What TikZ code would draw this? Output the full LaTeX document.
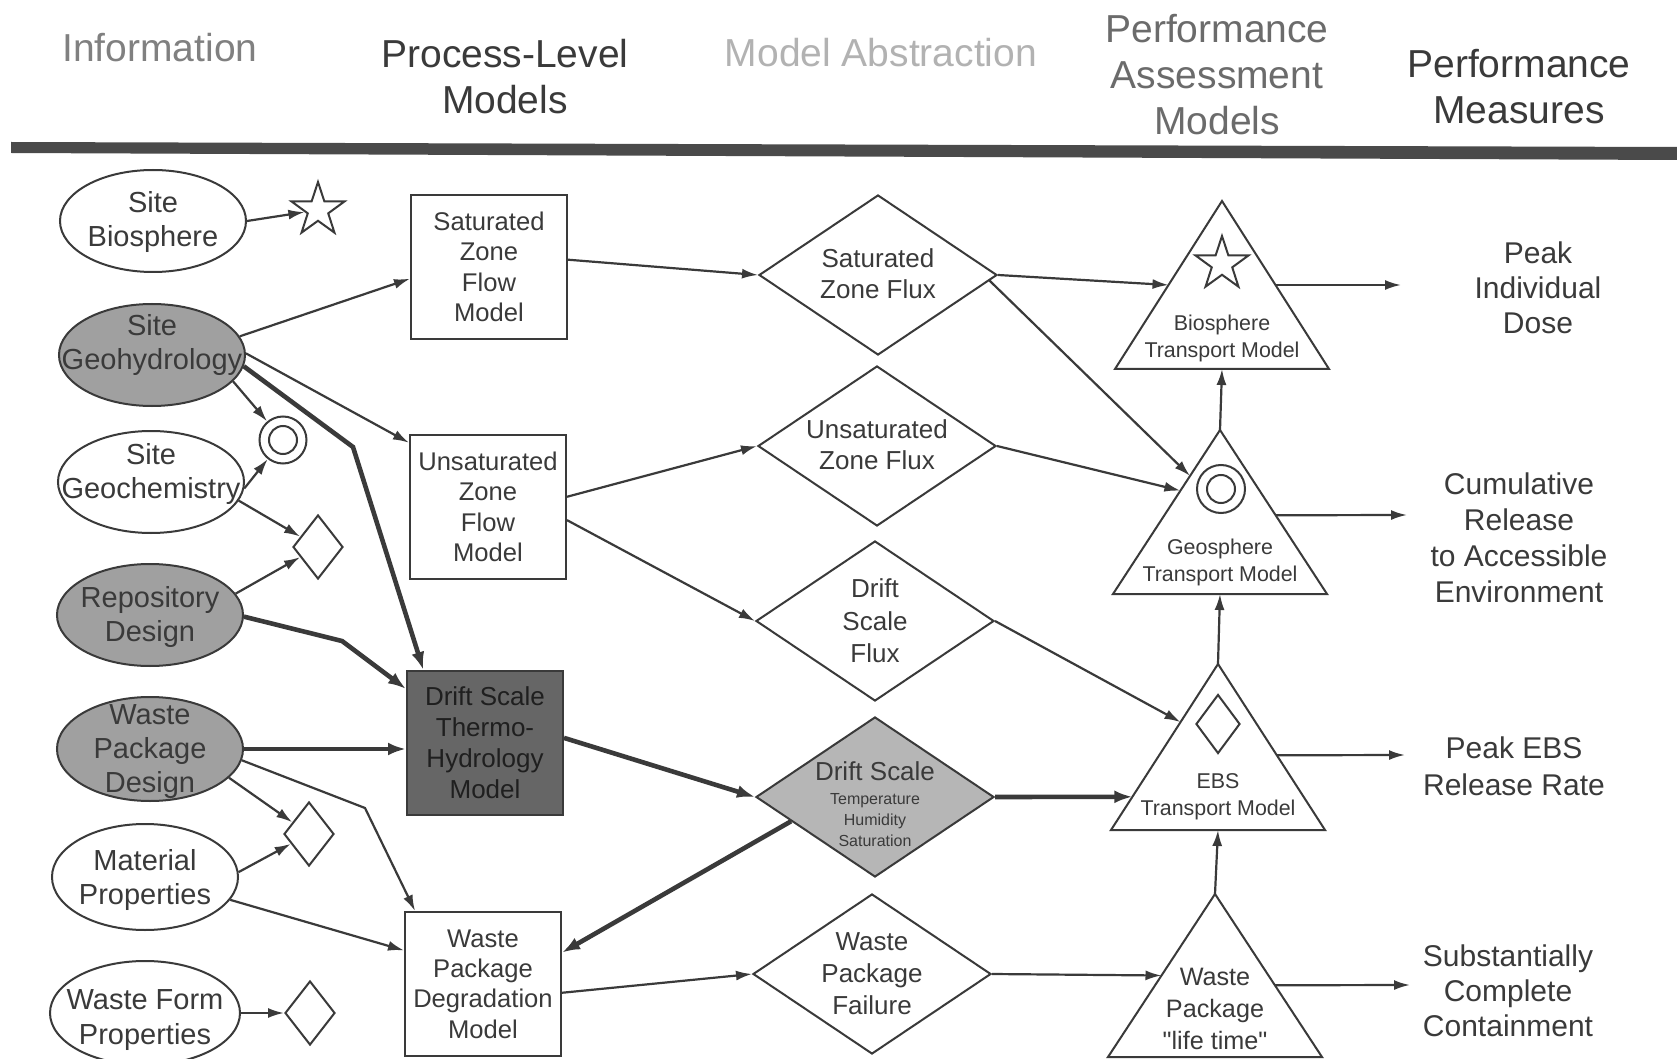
\documentclass[tikz,border=0pt]{standalone}
\usepackage{fontspec}
\setmainfont{Liberation Sans}
\newfontfamily\plainfont{Liberation Sans}
\usetikzlibrary{shapes.geometric,arrows.meta,calc}
\definecolor{ink}{HTML}{3A3A3A}
\definecolor{ellgray}{HTML}{A0A0A0}
\definecolor{thmgray}{HTML}{666666}
\definecolor{dsdgray}{HTML}{B6B6B6}
\definecolor{bandc}{HTML}{4A4A4A}
\begin{document}
\begin{tikzpicture}[x=0.5pt,y=-0.5pt,
  shp/.style={draw=ink, line width=1pt, inner sep=0pt},
  ell/.style={shp, ellipse, minimum width=93pt, minimum height=51pt},
  ellg/.style={ell, fill=ellgray},
  etx/.style={align=center, text=ink, inner sep=0pt, font=\fontsize{14.5}{17.3}\selectfont},
  pbox/.style={shp, rectangle, minimum width=78pt, minimum height=72pt, align=center, text=ink, font=\fontsize{12.8}{15.2}\selectfont},
  dia/.style={shp, diamond, minimum width=119pt, minimum height=80pt},
  dtx/.style={align=center, text=ink, inner sep=0pt, font=\fontsize{13}{15.6}\selectfont},
  sdia/.style={shp, diamond, minimum width=25pt, minimum height=32pt},
  sstar/.style={shp, star, star points=5, star point ratio=2.6, minimum size=28pt},
  scirc/.style={shp, circle, minimum size=23.5pt},
  ttx/.style={align=center, text=ink, inner sep=0pt, font=\fontsize{10.7}{13.5}\selectfont},
  mtx/.style={align=center, text=ink, inner sep=0pt, font=\fontsize{15}{17.6}\selectfont},
  htx/.style={align=center, inner sep=0pt, font=\fontsize{19.5}{23}\selectfont},
  arr/.style={draw=ink, line width=1.1pt, -{Latex[length=8pt,width=5pt]}},
  tarr/.style={draw=ink, line width=2.3pt, -{Latex[length=9pt,width=6.5pt]}},
  tri/.style={draw=ink, line width=1pt, line join=miter}
]
\useasboundingbox (0,0) rectangle (1677,1059);
\fill[white] (0,0) rectangle (1677,1059);

% headers
\node[htx, text=black!50] (h1) at (160,48) {Information};
\node[htx, text=ink] (h2) at (505,77) {Process-Level\\Models};
\node[htx, text=black!30] (h3) at (881,53) {Model Abstraction};
\node[htx, text=black!58] (h4) at (1217,75) {Performance\\Assessment\\Models};
\node[htx, text=ink] (h5) at (1519,87) {Performance\\Measures};
\fill[bandc] (11,142) -- (1677,147) -- (1677,160) -- (11,153) -- cycle;

% information ellipses
\node[ell]  (bio)  at (153,221) {};
\node[etx]  (bio-t) at ($(bio)+(0,1)$) {Site\\Biosphere};
\node[ellg] (geo)  at (152,355) {};
\node[etx]  (geo-t) at ($(geo)+(0,-10)$) {Site\\Geohydrology};
\node[ell]  (chem) at (151,482) {};
\node[etx]  (chem-t) at ($(chem)+(0,-8)$) {Site\\Geochemistry};
\node[ellg] (repo) at (150,615) {};
\node[etx]  (repo-t) at ($(repo)+(0,2)$) {Repository\\Design};
\node[ellg, minimum height=52pt] (wpd) at (150,749) {};
\node[etx, font=\fontsize{14.5}{17}\selectfont]  (wpd-t) at ($(wpd)+(0,3)$) {Waste\\Package\\Design};
\node[ell, minimum height=53pt]  (mat)  at (145,877) {};
\node[etx]  (mat-t) at ($(mat)+(0,3)$) {Material\\Properties};
\node[ell, minimum width=95pt, minimum height=52pt]  (wf)   at (145,1013) {};
\node[etx]  (wf-t) at ($(wf)+(0,7)$) {Waste Form\\Properties};

% small symbols
\node[sstar] (star1) at (318,210) {};
\node[scirc] (circ1) at (283,440) {};
\draw[ink, line width=1pt] (circ1.center) circle[radius=14];
\node[sdia] (dia1) at (318,547) {};
\node[sdia] (dia2) at (309,834) {};
\node[sdia] (dia3) at (310,1013) {};

% process-level models
\node[pbox] (szfm) at (489,267) {Saturated\\Zone\\Flow\\Model};
\node[pbox] (uzfm) at (488,507) {Unsaturated\\Zone\\Flow\\Model};
\node[pbox, fill=thmgray, text=black!88, font=\fontsize{13}{15.5}\selectfont] (thm) at (485,743) {Drift Scale\\Thermo-\\Hydrology\\Model};
\node[pbox] (wpdm) at (483,984) {Waste\\Package\\Degradation\\Model};

% model abstraction diamonds
\node[dia] (szf) at (878,275) {};
\node[dtx] (szf-t) at ($(szf)+(0,-1)$) {Saturated\\Zone Flux};
\node[dia] (uzf) at (877,446) {};
\node[dtx] (uzf-t) at ($(uzf)+(0,-1)$) {Unsaturated\\Zone Flux};
\node[dia] (dsf) at (875,621) {};
\node[dtx, font=\fontsize{13}{16.3}\selectfont] (dsf-t) at (dsf) {Drift\\Scale\\Flux};
\node[dia, fill=dsdgray] (dsd) at (875,797) {};
\node[align=center, text=ink, inner sep=0pt, font=\fontsize{13}{15}\selectfont] (dsd-t1) at (875,771) {Drift Scale};
\node[align=center, text=ink, inner sep=0pt, font=\fontsize{8}{10.3}\selectfont] (dsd-t2) at (875,820) {Temperature\\Humidity\\Saturation};
\node[dia] (wpf) at (872,974) {};
\node[dtx, font=\fontsize{13}{16}\selectfont] (wpf-t) at (wpf) {Waste\\Package\\Failure};

% performance assessment triangles
\coordinate (bioA) at (1222,201); \coordinate (bioL) at (1115,369); \coordinate (bioR) at (1329,369);
\coordinate (geoA) at (1220,430); \coordinate (geoL) at (1113,594); \coordinate (geoR) at (1327,594);
\coordinate (ebsA) at (1218,664); \coordinate (ebsL) at (1111,830); \coordinate (ebsR) at (1325,830);
\coordinate (wptA) at (1215,894); \coordinate (wptL) at (1108,1057); \coordinate (wptR) at (1322,1057);
\draw[tri] (bioA) -- (bioL) -- (bioR) -- cycle;
\draw[tri] (geoA) -- (geoL) -- (geoR) -- cycle;
\draw[tri] (ebsA) -- (ebsL) -- (ebsR) -- cycle;
\draw[tri] (wptA) -- (wptL) -- (wptR) -- cycle;
\node[sstar] (star2) at (1222,264) {};
\node[scirc, minimum size=24pt] (circ2) at (1221,489) {};
\draw[ink, line width=1pt] (circ2.center) circle[radius=14];
\node[sdia, minimum width=22pt, minimum height=29.5pt] (dia4) at (1218,724) {};
\node[ttx] (bio-tt) at (1222,338) {Biosphere\\Transport Model};
\node[ttx] (geo-tt) at (1220,562) {Geosphere\\Transport Model};
\node[ttx] (ebs-tt) at (1218,797) {EBS\\Transport Model};
\node[ttx, font=\plainfont\fontsize{12.6}{16}\selectfont] (wpt-tt) at (1215,1009) {Waste\\Package\\"life time"};

% performance measures
\node[mtx] (pm1) at (1538,288) {Peak\\Individual\\Dose};
\node[mtx, font=\fontsize{15}{18}\selectfont] (pm2) at (1519,538) {Cumulative\\Release\\to Accessible\\Environment};
\node[mtx, font=\fontsize{15}{18.3}\selectfont] (pm3) at (1514,766) {Peak EBS\\Release Rate};
\node[mtx] (pm4) at (1508,991) {Substantially\\Complete\\Containment};
\coordinate (m1) at (1401,285);
\coordinate (m2) at (1407,515);
\coordinate (m3) at (1405,755);
\coordinate (m4) at (1410,985);
\coordinate (b1) at (353,447);
\coordinate (b2) at (342,641);
\coordinate (b3) at (365,808);

% connectors: information -> process / symbols
\draw[arr] (bio.east) -- (star1);
\draw[arr] (geo.12) -- ($(szfm.north west)!0.58!(szfm.south west)$);
\draw[arr] (geo.1) -- ($(uzfm.north west)!0.06!(uzfm.south west)$);
\draw[arr] (geo.-18) -- (circ1);
\draw[tarr] (geo.-7) -- (b1) -- ($(thm.north west)!0.11!(thm.north east)$);
\draw[arr] (chem.-4) -- (circ1);
\draw[arr] (chem.-12) -- (dia1);
\draw[arr] (repo.14) -- (dia1);
\draw[tarr] (repo.-1) -- (b2) -- ($(thm.north west)!0.13!(thm.south west)$);
\draw[tarr] (wpd.east) -- (wpd.east -| thm.west);
\draw[arr] (wpd.-20) -- (dia2);
\draw[arr] (wpd.-7) -- (b3) -- ($(wpdm.north west)!0.07!(wpdm.north east)$);
\draw[arr] (mat.3) -- (dia2);
\draw[arr] (mat.-15) -- ($(wpdm.north west)!0.27!(wpdm.south west)$);
\draw[arr] (wf.east) -- (dia3.west);

% process -> abstraction
\draw[arr] ($(szfm.north east)!0.45!(szfm.south east)$) -- (szf.west);
\draw[arr] ($(uzfm.north east)!0.43!(uzfm.south east)$) -- (uzf.west);
\draw[arr] ($(uzfm.north east)!0.59!(uzfm.south east)$) -- (dsf.west);
\draw[tarr] ($(thm.north east)!0.465!(thm.south east)$) -- (dsd.west);
\draw[tarr] ($(dsd.west)!0.3!(dsd.south)$) -- ($(wpdm.north east)!0.285!(wpdm.south east)$);
\draw[arr] ($(wpdm.north east)!0.56!(wpdm.south east)$) -- (wpf.west);

% abstraction -> assessment
\draw[arr] (szf.east) -- ($(bioA)!0.5!(bioL)$);
\draw[arr] ($(szf.east)!0.07!(szf.south)$) -- ($(geoA)!0.28!(geoL)$);
\draw[arr] (uzf.east) -- ($(geoA)!0.37!(geoL)$);
\draw[arr] (dsf.east) -- ($(ebsA)!0.35!(ebsL)$);
\draw[tarr] (dsd.east) -- ($(ebsA)!0.8!(ebsL)$);
\draw[arr] (wpf.east) -- ($(wptA)!0.5!(wptL)$);

% between triangles
\draw[arr] (wptA) -- ($(ebsL)!0.5!(ebsR)$);
\draw[arr] (ebsA) -- ($(geoL)!0.5!(geoR)$);
\draw[arr] (geoA) -- ($(bioL)!0.5!(bioR)$);

% to performance measures
\draw[arr] ($(bioA)!0.5!(bioR)$) -- (m1);
\draw[arr] ($(geoA)!0.52!(geoR)$) -- (m2);
\draw[arr] ($(ebsA)!0.55!(ebsR)$) -- (m3);
\draw[arr] ($(wptA)!0.56!(wptR)$) -- (m4);
\end{tikzpicture}
\end{document}
